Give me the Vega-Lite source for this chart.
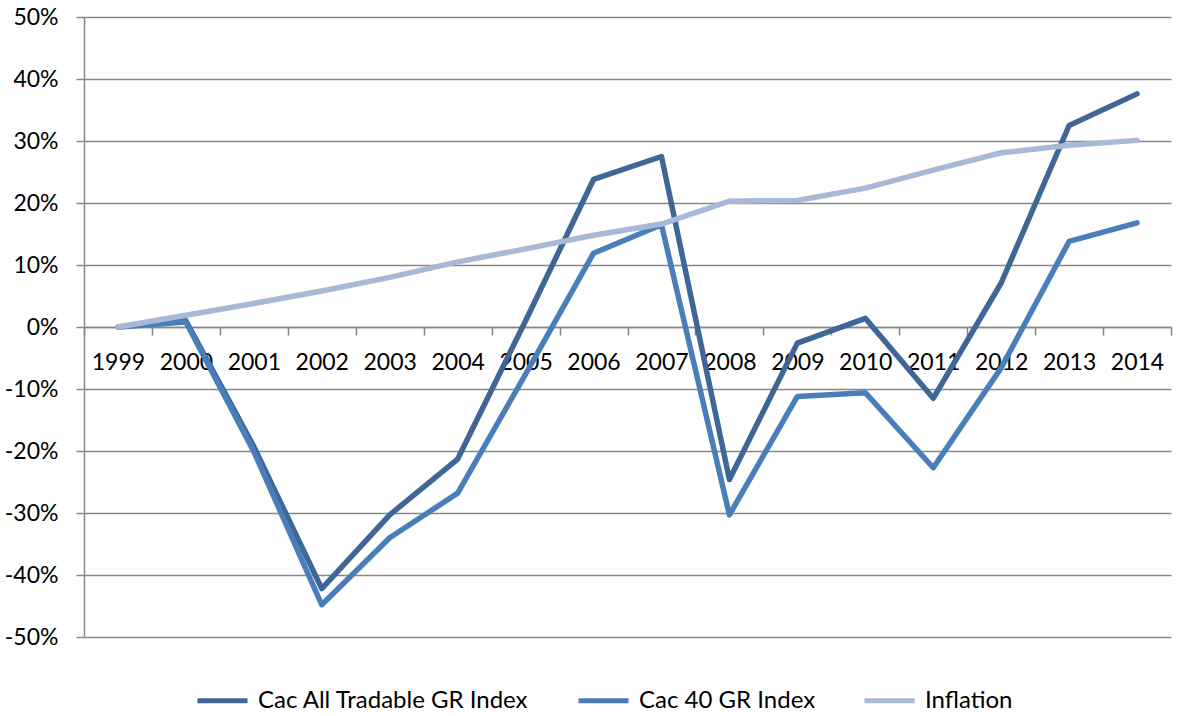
{
  "$schema": "https://vega.github.io/schema/vega-lite/v6.json",
  "width": 1087,
  "height": 620,
  "autosize": {"type": "none"},
  "padding": {"left": 84, "top": 17, "right": 10, "bottom": 79},
  "background": "white",
  "config": {
    "view": {"stroke": null},
    "font": "Lato",
    "axis": {"labelFont": "Lato", "labelColor": "black", "labelFontSize": 23}
  },
  "data": {
    "values": [
      {"year": "1999", "series": "Cac All Tradable GR Index", "value": 0},
      {"year": "2000", "series": "Cac All Tradable GR Index", "value": 1.0},
      {"year": "2001", "series": "Cac All Tradable GR Index", "value": -19.3},
      {"year": "2002", "series": "Cac All Tradable GR Index", "value": -42.2},
      {"year": "2003", "series": "Cac All Tradable GR Index", "value": -30.3},
      {"year": "2004", "series": "Cac All Tradable GR Index", "value": -21.3},
      {"year": "2005", "series": "Cac All Tradable GR Index", "value": 1.0},
      {"year": "2006", "series": "Cac All Tradable GR Index", "value": 23.8},
      {"year": "2007", "series": "Cac All Tradable GR Index", "value": 27.5},
      {"year": "2008", "series": "Cac All Tradable GR Index", "value": -24.6},
      {"year": "2009", "series": "Cac All Tradable GR Index", "value": -2.6},
      {"year": "2010", "series": "Cac All Tradable GR Index", "value": 1.4},
      {"year": "2011", "series": "Cac All Tradable GR Index", "value": -11.5},
      {"year": "2012", "series": "Cac All Tradable GR Index", "value": 7.1},
      {"year": "2013", "series": "Cac All Tradable GR Index", "value": 32.5},
      {"year": "2014", "series": "Cac All Tradable GR Index", "value": 37.6},
      {"year": "1999", "series": "Cac 40 GR Index", "value": 0},
      {"year": "2000", "series": "Cac 40 GR Index", "value": 0.8},
      {"year": "2001", "series": "Cac 40 GR Index", "value": -20.1},
      {"year": "2002", "series": "Cac 40 GR Index", "value": -44.8},
      {"year": "2003", "series": "Cac 40 GR Index", "value": -34.0},
      {"year": "2004", "series": "Cac 40 GR Index", "value": -26.8},
      {"year": "2005", "series": "Cac 40 GR Index", "value": -7.6},
      {"year": "2006", "series": "Cac 40 GR Index", "value": 11.9},
      {"year": "2007", "series": "Cac 40 GR Index", "value": 16.5},
      {"year": "2008", "series": "Cac 40 GR Index", "value": -30.3},
      {"year": "2009", "series": "Cac 40 GR Index", "value": -11.2},
      {"year": "2010", "series": "Cac 40 GR Index", "value": -10.6},
      {"year": "2011", "series": "Cac 40 GR Index", "value": -22.7},
      {"year": "2012", "series": "Cac 40 GR Index", "value": -6.6},
      {"year": "2013", "series": "Cac 40 GR Index", "value": 13.8},
      {"year": "2014", "series": "Cac 40 GR Index", "value": 16.8},
      {"year": "1999", "series": "Inflation", "value": 0},
      {"year": "2000", "series": "Inflation", "value": 1.9},
      {"year": "2001", "series": "Inflation", "value": 3.8},
      {"year": "2002", "series": "Inflation", "value": 5.8},
      {"year": "2003", "series": "Inflation", "value": 8.0},
      {"year": "2004", "series": "Inflation", "value": 10.5},
      {"year": "2005", "series": "Inflation", "value": 12.6},
      {"year": "2006", "series": "Inflation", "value": 14.8},
      {"year": "2007", "series": "Inflation", "value": 16.6},
      {"year": "2008", "series": "Inflation", "value": 20.3},
      {"year": "2009", "series": "Inflation", "value": 20.4},
      {"year": "2010", "series": "Inflation", "value": 22.4},
      {"year": "2011", "series": "Inflation", "value": 25.3},
      {"year": "2012", "series": "Inflation", "value": 28.1},
      {"year": "2013", "series": "Inflation", "value": 29.3},
      {"year": "2014", "series": "Inflation", "value": 30.1}
    ]
  },
  "mark": {"type": "line", "strokeWidth": 5.5, "strokeCap": "round", "strokeJoin": "round"},
  "encoding": {
    "x": {
      "field": "year",
      "type": "ordinal",
      "scale": {"type": "band", "paddingInner": 0, "paddingOuter": 0},
      "axis": {
        "title": null,
        "offset": -310,
        "labelAngle": 0,
        "tickBand": "extent",
        "tickSize": 8,
        "tickColor": "#878787",
        "tickWidth": 1.5,
        "domainColor": "#878787",
        "domainWidth": 1.5,
        "labelPadding": 16,
        "grid": false
      }
    },
    "y": {
      "field": "value",
      "type": "quantitative",
      "scale": {"domain": [-50, 50], "nice": false},
      "axis": {
        "title": null,
        "values": [-50, -40, -30, -20, -10, 0, 10, 20, 30, 40, 50],
        "labelExpr": "datum.value + '%'",
        "grid": true,
        "gridColor": "#878787",
        "gridWidth": 1.5,
        "tickColor": "#878787",
        "tickWidth": 1.5,
        "tickSize": 8,
        "domainColor": "#878787",
        "domainWidth": 1.5,
        "labelPadding": 18
      }
    },
    "color": {
      "field": "series",
      "type": "nominal",
      "sort": ["Cac All Tradable GR Index", "Cac 40 GR Index", "Inflation"],
      "scale": {
        "domain": ["Cac All Tradable GR Index", "Cac 40 GR Index", "Inflation"],
        "range": ["#3e6798", "#4a7ebb", "#a7b9d7"]
      },
      "legend": {
        "title": null,
        "orient": "none",
        "direction": "horizontal",
        "legendX": 111,
        "legendY": 656,
        "symbolType": "stroke",
        "symbolStrokeWidth": 5,
        "symbolSize": 2500,
        "labelFontSize": 24,
        "labelFont": "Lato",
        "labelColor": "black",
        "labelOffset": 8,
        "columnPadding": 38,
        "labelLimit": 400
      }
    }
  }
}
